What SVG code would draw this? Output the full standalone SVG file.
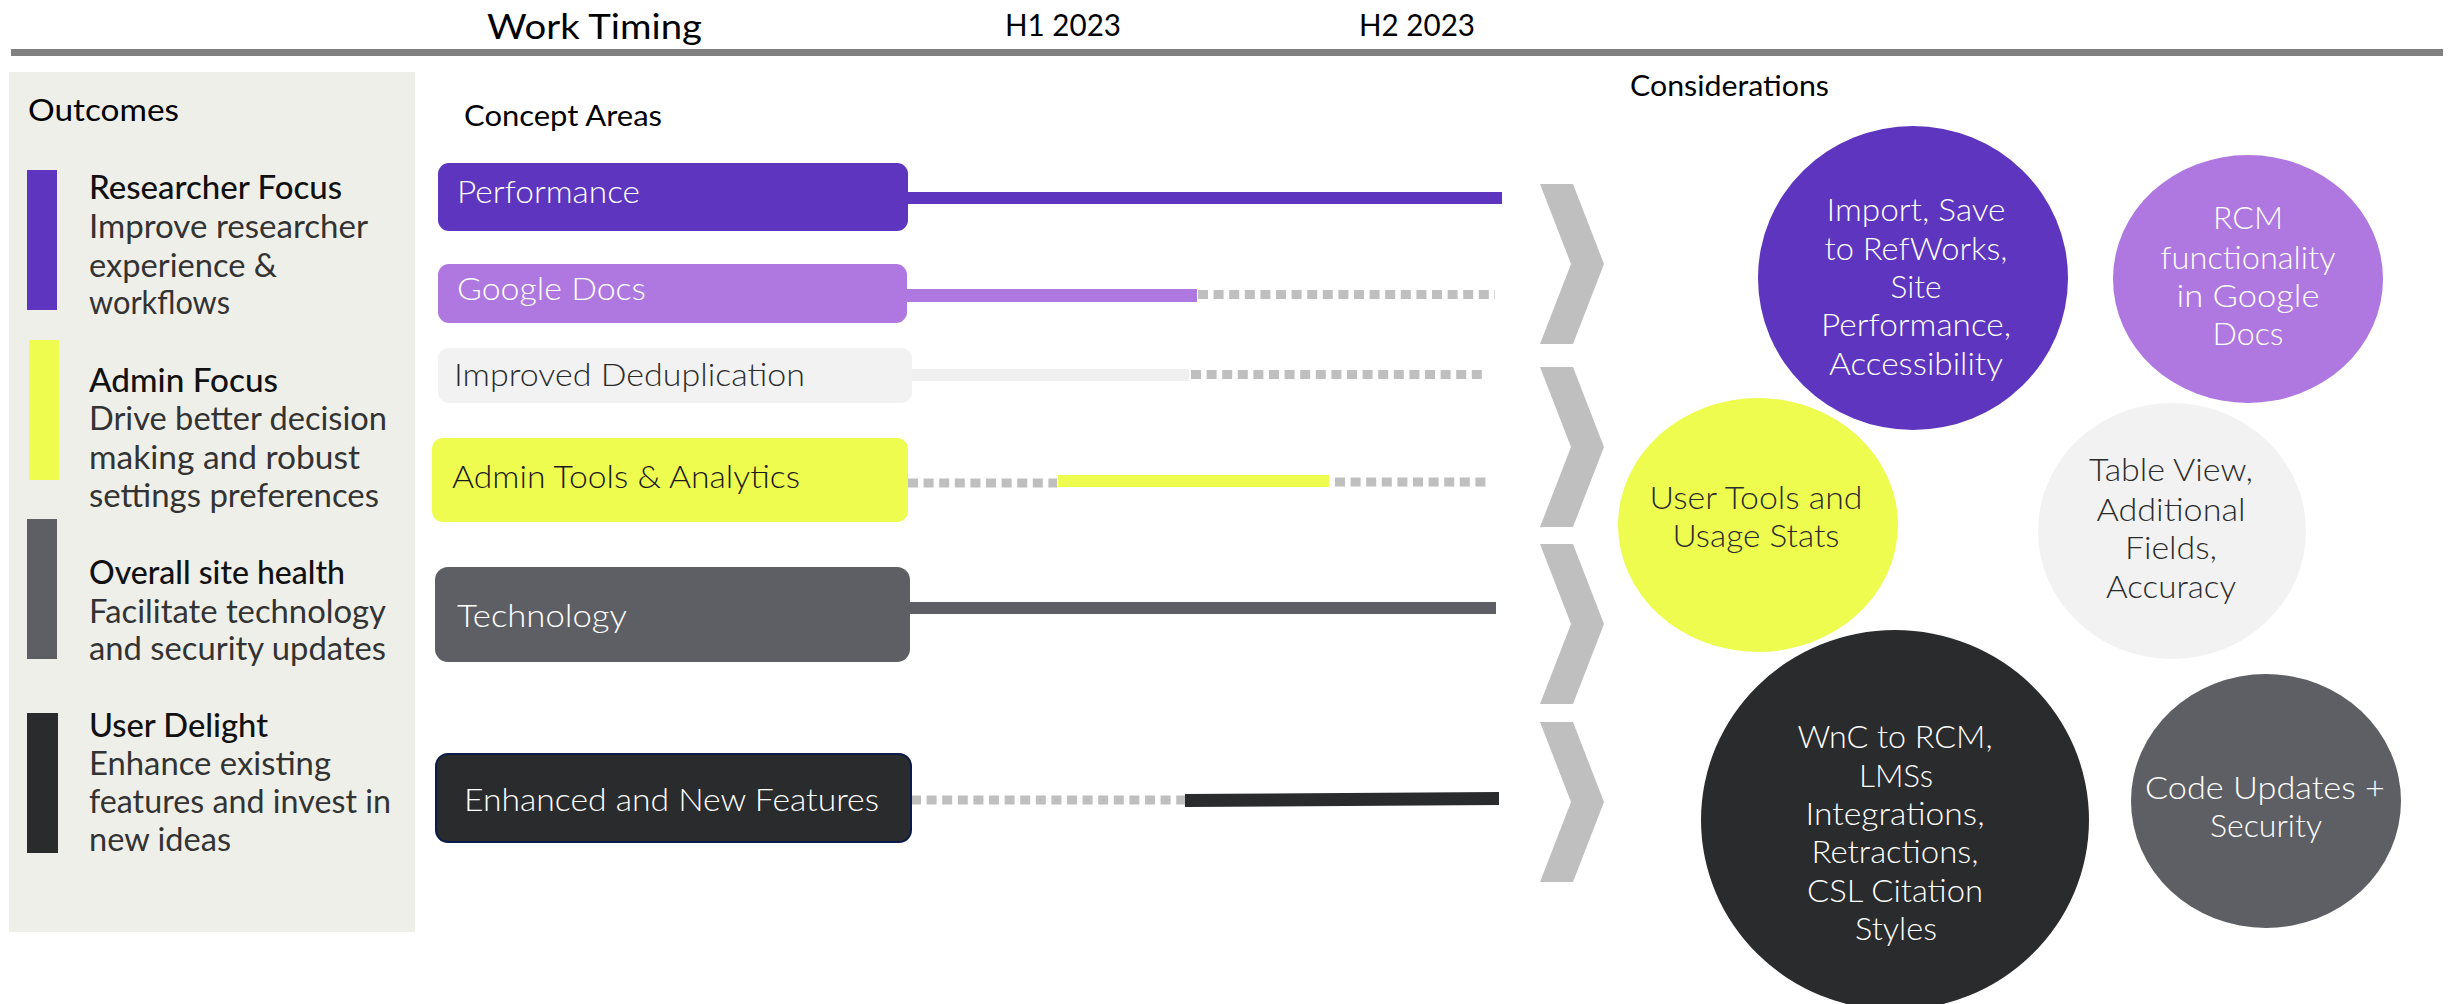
<svg xmlns="http://www.w3.org/2000/svg" width="2463" height="1004" viewBox="0 0 2463 1004">
<style>
text{font-family:Lato,"Open Sans","Liberation Sans",sans-serif}
.hd{font-size:30px;fill:#000;font-weight:400}
.ot{font-size:32px;fill:#111;font-weight:500}
.ob{font-size:32px;fill:#333;font-weight:400}
.bx{font-size:32px;font-weight:300}
.cc{font-size:32px;font-weight:300;text-anchor:middle}
.w{fill:#fff}
.d{fill:#2b2b2b}
.dot{stroke:#bfbfbf;stroke-width:9;stroke-dasharray:10 5.6;fill:none}
.chev{fill:#bfbfbf}
</style>
<defs>
<polygon id="chev" points="0,0 33,0 64,80 33,160 0,160 31,80"/>
</defs>
<rect width="2463" height="1004" fill="#fff"/>

<g id="header">
<rect x="11" y="49" width="2432" height="7" fill="#808080"/>
<text class="hd" x="487" y="39" style="font-size:34px" textLength="215" lengthAdjust="spacingAndGlyphs">Work Timing</text>
<text class="hd" x="1005" y="36" textLength="116" lengthAdjust="spacingAndGlyphs">H1 2023</text>
<text class="hd" x="1359" y="36" textLength="116" lengthAdjust="spacingAndGlyphs">H2 2023</text>
</g>

<g id="outcomes">
<rect x="9" y="72" width="406" height="860" fill="#efefea"/>
<text class="hd" x="28" y="121" textLength="151" lengthAdjust="spacingAndGlyphs">Outcomes</text>
<g id="outcome-researcher">
<rect x="27" y="170" width="30" height="140" fill="#5e35be"/>
<text class="ot" x="89" y="199" textLength="253" lengthAdjust="spacingAndGlyphs">Researcher Focus</text>
<text class="ob" x="89" y="238" textLength="279" lengthAdjust="spacingAndGlyphs">Improve researcher</text>
<text class="ob" x="89" y="277" textLength="188" lengthAdjust="spacingAndGlyphs">experience &amp;</text>
<text class="ob" x="89" y="314" textLength="141" lengthAdjust="spacingAndGlyphs">workflows</text>
</g>
<g id="outcome-admin">
<rect x="29" y="340" width="30" height="140" fill="#eefc50"/>
<text class="ot" x="89" y="392" textLength="189" lengthAdjust="spacingAndGlyphs">Admin Focus</text>
<text class="ob" x="89" y="430" textLength="298" lengthAdjust="spacingAndGlyphs">Drive better decision</text>
<text class="ob" x="89" y="469" textLength="271" lengthAdjust="spacingAndGlyphs">making and robust</text>
<text class="ob" x="89" y="507" textLength="290" lengthAdjust="spacingAndGlyphs">settings preferences</text>
</g>
<g id="outcome-health">
<rect x="27" y="519" width="30" height="140" fill="#5e5f64"/>
<text class="ot" x="89" y="584" textLength="256" lengthAdjust="spacingAndGlyphs">Overall site health</text>
<text class="ob" x="89" y="623" textLength="297" lengthAdjust="spacingAndGlyphs">Facilitate technology</text>
<text class="ob" x="89" y="660" textLength="297" lengthAdjust="spacingAndGlyphs">and security updates</text>
</g>
<g id="outcome-delight">
<rect x="27" y="713" width="31" height="140" fill="#2a2b2d"/>
<text class="ot" x="89" y="737" textLength="179" lengthAdjust="spacingAndGlyphs">User Delight</text>
<text class="ob" x="89" y="775" textLength="242" lengthAdjust="spacingAndGlyphs">Enhance existing</text>
<text class="ob" x="89" y="813" textLength="302" lengthAdjust="spacingAndGlyphs">features and invest in</text>
<text class="ob" x="89" y="851" textLength="142" lengthAdjust="spacingAndGlyphs">new ideas</text>
</g>
</g>

<text class="hd" x="464" y="126" style="font-size:29px" textLength="198" lengthAdjust="spacingAndGlyphs">Concept Areas</text>
<text class="hd" x="1630" y="96" style="font-size:29px" textLength="199" lengthAdjust="spacingAndGlyphs">Considerations</text>

<g id="connectors">
<rect x="906" y="192" width="596" height="12" fill="#5e35be"/>
<rect x="905" y="289" width="292" height="13" fill="#af77e0"/>
<line class="dot" x1="1198" y1="294.5" x2="1495" y2="294.5"/>
<rect x="910" y="369" width="279" height="12" fill="#f0f0f0"/>
<line class="dot" x1="1191" y1="374.5" x2="1486" y2="374.5"/>
<line class="dot" x1="908" y1="483" x2="1057" y2="483"/>
<rect x="1058" y="475" width="271" height="12" fill="#eefc50"/>
<line class="dot" x1="1335" y1="482" x2="1489" y2="482"/>
<rect x="908" y="602" width="588" height="12" fill="#5e5f64"/>
<line class="dot" x1="911" y1="800" x2="1185" y2="800"/>
<polygon points="1185,794 1499,792 1499,805 1185,807" fill="#2a2b2d"/>
<use href="#chev" class="chev" x="1540" y="184"/>
<use href="#chev" class="chev" x="1540" y="367"/>
<use href="#chev" class="chev" x="1540" y="544"/>
<use href="#chev" class="chev" x="1540" y="722"/>
</g>

<g id="area-performance">
<rect x="438" y="163" width="470" height="68" rx="11" fill="#5e35be"/>
<text class="bx w" x="457" y="203" textLength="183" lengthAdjust="spacingAndGlyphs">Performance</text>
</g>
<g id="area-googledocs">
<rect x="438" y="264" width="469" height="59" rx="11" fill="#af77e0"/>
<text class="bx w" x="457" y="300" textLength="189" lengthAdjust="spacingAndGlyphs">Google Docs</text>
</g>
<g id="area-dedup">
<rect x="438" y="348" width="474" height="55" rx="11" fill="#f2f2f2"/>
<text class="bx d" x="454" y="386" textLength="351" lengthAdjust="spacingAndGlyphs">Improved Deduplication</text>
</g>
<g id="area-admin">
<rect x="432" y="438" width="476" height="84" rx="11" fill="#eefc50"/>
<text class="bx" x="452" y="488" fill="#1a1a1a" textLength="348" lengthAdjust="spacingAndGlyphs">Admin Tools &amp; Analytics</text>
</g>
<g id="area-technology">
<rect x="435" y="567" width="475" height="95" rx="13" fill="#5e5f64"/>
<text class="bx w" x="457" y="627" textLength="170" lengthAdjust="spacingAndGlyphs">Technology</text>
</g>
<g id="area-enhanced">
<rect x="436" y="754" width="475" height="88" rx="12" fill="#2a2b2d" stroke="#0c1a4a" stroke-width="2"/>
<text class="bx w" x="464" y="811" textLength="415" lengthAdjust="spacingAndGlyphs">Enhanced and New Features</text>
</g>

<g id="c-import">
<ellipse cx="1913" cy="278" rx="155" ry="152" fill="#5e35be"/>
<text class="cc w" x="1916" y="221" textLength="179" lengthAdjust="spacingAndGlyphs">Import, Save</text>
<text class="cc w" x="1916" y="260" textLength="183" lengthAdjust="spacingAndGlyphs">to RefWorks,</text>
<text class="cc w" x="1916" y="298" textLength="51" lengthAdjust="spacingAndGlyphs">Site</text>
<text class="cc w" x="1916" y="336" textLength="190" lengthAdjust="spacingAndGlyphs">Performance,</text>
<text class="cc w" x="1916" y="375" textLength="174" lengthAdjust="spacingAndGlyphs">Accessibility</text>
</g>
<g id="c-rcm">
<ellipse cx="2248" cy="279" rx="135" ry="124" fill="#af77e0"/>
<text class="cc w" x="2248" y="229" textLength="70" lengthAdjust="spacingAndGlyphs">RCM</text>
<text class="cc w" x="2248" y="269" textLength="175" lengthAdjust="spacingAndGlyphs">functionality</text>
<text class="cc w" x="2248" y="307" textLength="143" lengthAdjust="spacingAndGlyphs">in Google</text>
<text class="cc w" x="2248" y="345" textLength="71" lengthAdjust="spacingAndGlyphs">Docs</text>
</g>
<g id="c-usertools">
<ellipse cx="1758" cy="525" rx="140" ry="127" fill="#eefc50"/>
<text class="cc d" x="1756" y="509" textLength="213" lengthAdjust="spacingAndGlyphs">User Tools and</text>
<text class="cc d" x="1756" y="547" textLength="167" lengthAdjust="spacingAndGlyphs">Usage Stats</text>
</g>
<g id="c-table">
<ellipse cx="2172" cy="531" rx="134" ry="128" fill="#f2f2f2"/>
<text class="cc d" x="2171" y="481" textLength="164" lengthAdjust="spacingAndGlyphs">Table View,</text>
<text class="cc d" x="2171" y="521" textLength="149" lengthAdjust="spacingAndGlyphs">Additional</text>
<text class="cc d" x="2171" y="559" textLength="92" lengthAdjust="spacingAndGlyphs">Fields,</text>
<text class="cc d" x="2171" y="598" textLength="130" lengthAdjust="spacingAndGlyphs">Accuracy</text>
</g>
<g id="c-wnc">
<ellipse cx="1895" cy="820" rx="194" ry="190" fill="#2a2b2d"/>
<text class="cc w" x="1895" y="748" textLength="195" lengthAdjust="spacingAndGlyphs">WnC to RCM,</text>
<text class="cc w" x="1896" y="787" textLength="74" lengthAdjust="spacingAndGlyphs">LMSs</text>
<text class="cc w" x="1895" y="825" textLength="179" lengthAdjust="spacingAndGlyphs">Integrations,</text>
<text class="cc w" x="1895" y="863" textLength="167" lengthAdjust="spacingAndGlyphs">Retractions,</text>
<text class="cc w" x="1895" y="902" textLength="176" lengthAdjust="spacingAndGlyphs">CSL Citation</text>
<text class="cc w" x="1896" y="940" textLength="82" lengthAdjust="spacingAndGlyphs">Styles</text>
</g>
<g id="c-code">
<ellipse cx="2266" cy="801" rx="135" ry="127" fill="#5e5f64"/>
<text class="cc w" x="2265" y="799" textLength="240" lengthAdjust="spacingAndGlyphs">Code Updates +</text>
<text class="cc w" x="2266" y="837" textLength="112" lengthAdjust="spacingAndGlyphs">Security</text>
</g>
</svg>
